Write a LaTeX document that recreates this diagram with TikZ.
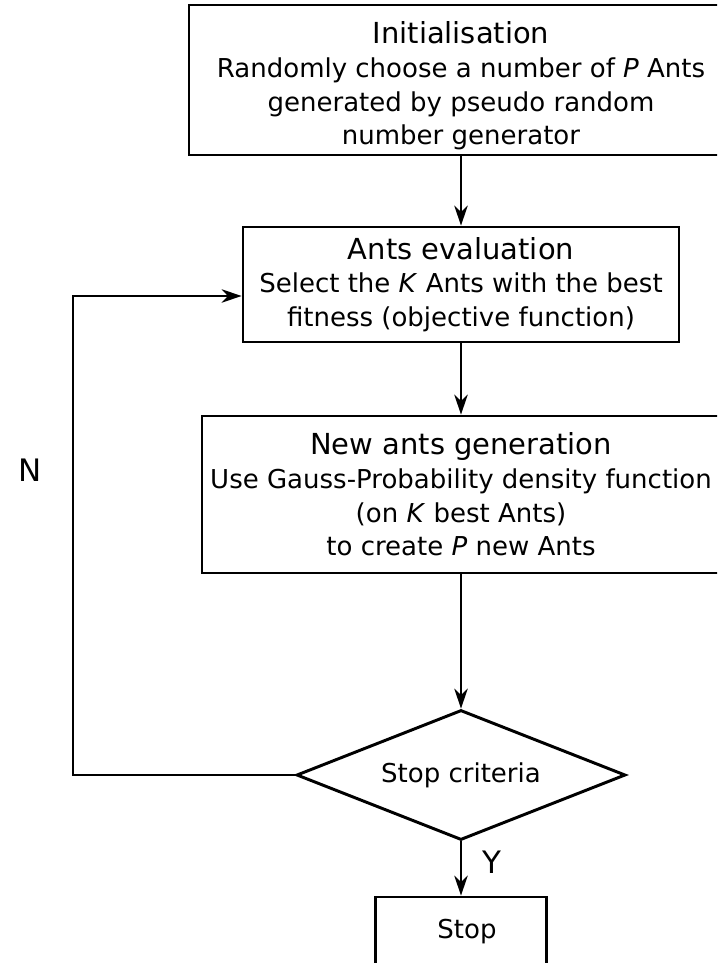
\documentclass[tikz,border=0pt]{standalone}
\usepackage{fontspec}
\setmainfont{DejaVu Sans}
\usetikzlibrary{positioning,arrows.meta,shapes.geometric}

\newcommand{\boxtitle}[1]{{\fontsize{20.6pt}{24pt}\selectfont #1}}

\begin{document}
\begin{tikzpicture}[
    font=\fontsize{18.5pt}{24pt}\selectfont,
    stepbox/.style={
        draw,
        line width=2.1pt,
        align=center,
        inner sep=0pt
    },
    decision/.style={
        draw,
        diamond,
        aspect=2.5,
        line width=2.1pt,
        inner sep=0pt,
        minimum width=8.225cm,
        minimum height=3.25cm
    },
    arrow/.style={
        -{Stealth[length=5mm,width=3.4mm,inset=1.6mm]},
        line width=1.1pt
    },
    flowlabel/.style={
        font=\fontsize{22pt}{26pt}\selectfont
    }
]

% page frame
\useasboundingbox (0,0) rectangle (17.925,-24.075);
\clip (0,0) rectangle (17.925,-24.075);

% =========================
% steps
% =========================
\node[stepbox, minimum width=13.6cm, minimum height=3.75cm] (init) at (11.525,-2.0)
    {\rule{0pt}{24pt}\boxtitle{Initialisation}\\Randomly choose a number of \textit{P} Ants\\generated by pseudo random\\number generator};

\node[stepbox, minimum width=10.9cm, minimum height=2.875cm] (eval) at (11.525,-7.1125)
    {\boxtitle{Ants evaluation}\\Select the \textit{K} Ants with the best\\fitness (objective function)};

\node[stepbox, minimum width=12.95cm, minimum height=3.925cm] (newants) at (11.525,-12.3625)
    {\boxtitle{New ants generation}\\Use Gauss-Probability density function\\(on \textit{K} best Ants)\\to create \textit{P} new Ants};

\node[decision] (crit) at (11.525,-19.375) {Stop criteria};

\node[stepbox, minimum width=4.275cm, minimum height=1.75cm] (stop) at (11.525,-23.3)
    {\hspace*{0.3cm}Stop};

% =========================
% connectors
% =========================
\draw[arrow] (init.south) -- (eval.north);
\draw[arrow] (eval.south) -- (newants.north);
\draw[arrow] (newants.south) -- (crit.north);
\draw[arrow] (crit.south) -- (stop.north);

\coordinate (ncorner) at (1.825,-19.375);
\draw[arrow] (crit.west) -- (ncorner) |- ([yshift=-0.2875cm]eval.west);

% labels
\node[flowlabel] (yes) at (12.3,-21.55) {Y};
\node[flowlabel] (no) at (0.75,-11.75) {N};

\end{tikzpicture}
\end{document}
